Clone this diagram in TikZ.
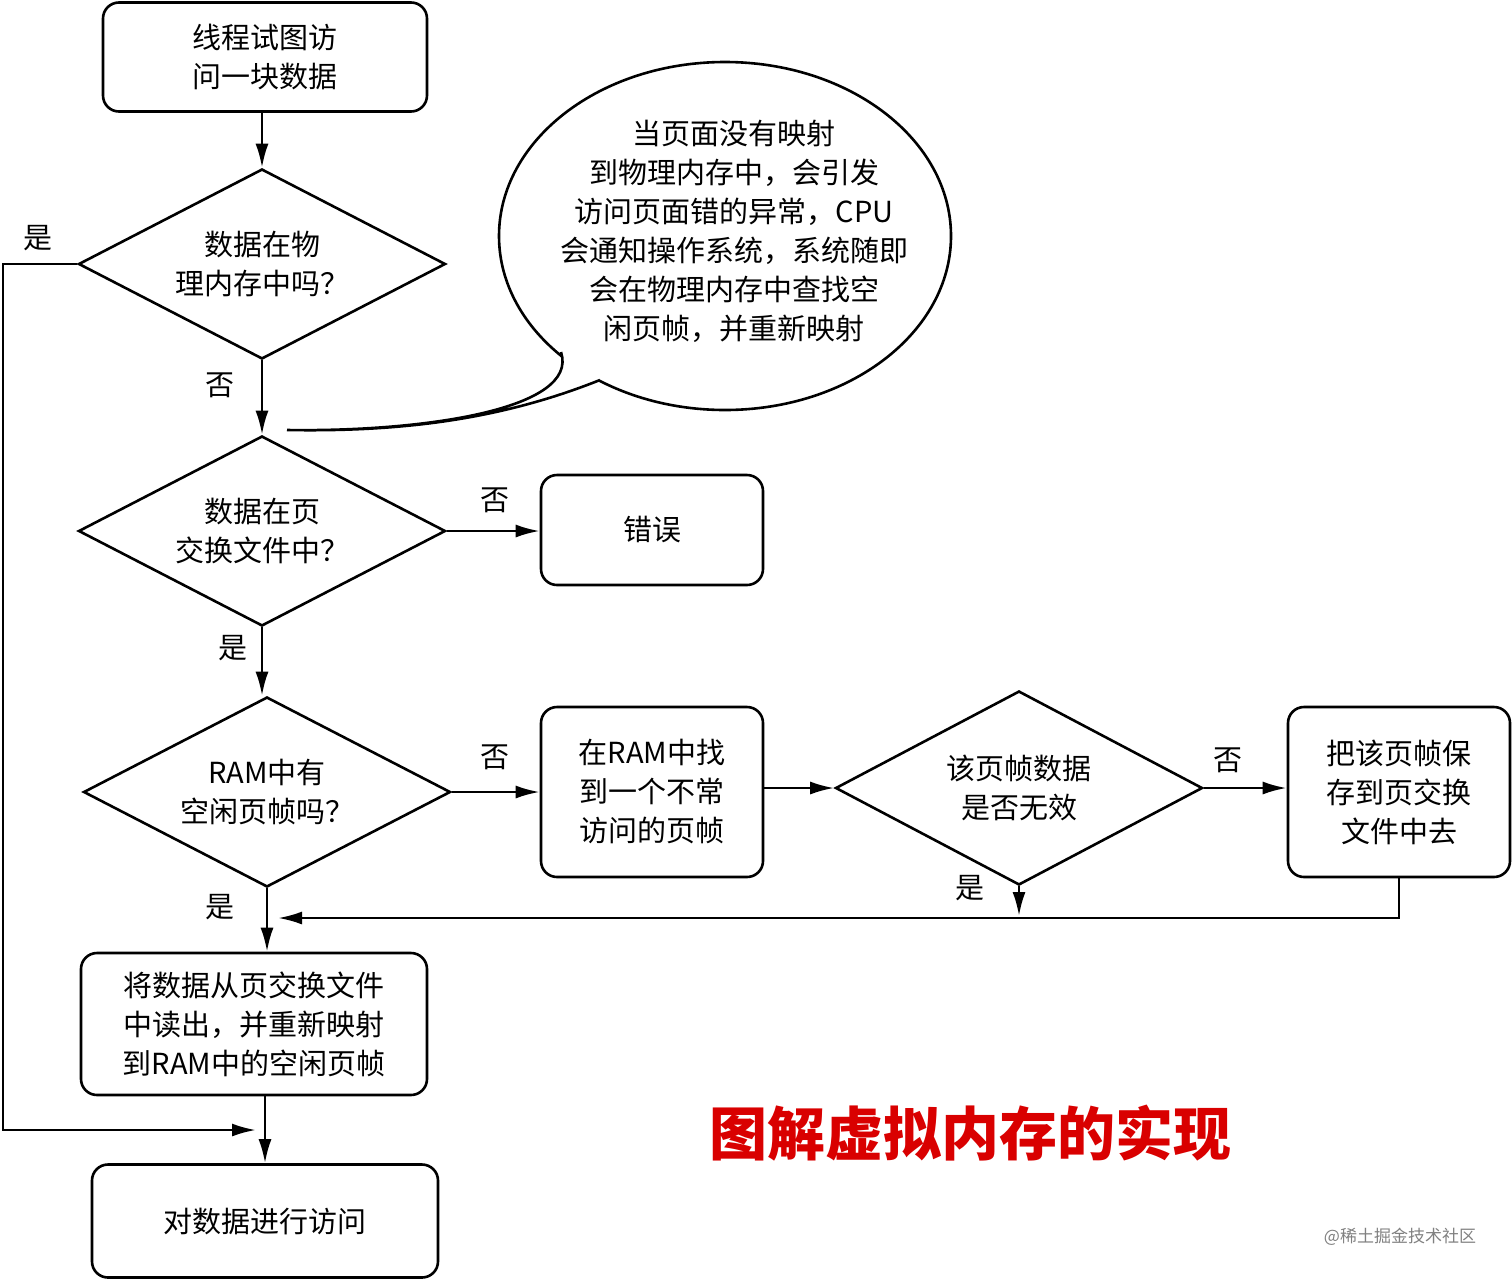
\documentclass[tikz,border=0pt]{standalone}
\usepackage{fontspec}
\newfontfamily\cjk{Noto Sans CJK SC}
\usetikzlibrary{shapes.geometric,arrows.meta}
\begin{document}
\begin{tikzpicture}[x=1pt,y=-1pt,line width=2.6pt,
  every node/.style={font=\cjk\fontsize{29}{39}\selectfont},
  box/.style={draw,rounded corners=16pt,align=center,inner sep=0pt},
  dia/.style={draw,diamond,aspect=1.93,inner sep=0pt,align=center,minimum width=367pt,minimum height=190pt},
  arr/.style={-{Latex[length=24pt,width=13pt]},line width=2.6pt},
  lbl/.style={inner sep=0pt}]
\useasboundingbox (0,0) rectangle (1512,1280);
\node[box,minimum width=324pt,minimum height=109pt] (b1) at (265,57) {线程试图访\\问一块数据};
\node[dia] (d1) at (262,264) {数据在物\\理内存中吗？};
\node[dia] (d2) at (262,531) {数据在页\\交换文件中？};
\node[box,minimum width=222pt,minimum height=110pt] (err) at (652,530) {错误};
\node[dia] (d3) at (267,792) {RAM中有\\空闲页帧吗？};
\node[box,minimum width=222pt,minimum height=170pt] (ram) at (652,792) {在RAM中找\\到一个不常\\访问的页帧};
\node[dia,minimum height=194pt] (d4) at (1019,788) {该页帧数据\\是否无效};
\node[box,minimum width=222pt,minimum height=170pt] (save) at (1399,792) {把该页帧保\\存到页交换\\文件中去};
\node[box,minimum width=346pt,minimum height=142pt] (load) at (254,1024) {将数据从页交换文件\\中读出，并重新映射\\到RAM中的空闲页帧};
\node[box,minimum width=346pt,minimum height=113pt] (fin) at (265,1221) {对数据进行访问};
% callout
\draw (725,236) ellipse [x radius=226pt, y radius=174pt];
\path[fill=white] (560,345) .. controls (580,410) and (420,432) .. (287,430) .. controls (400,432) and (500,420) .. (600,380) -- (590,360) -- cycle;
\draw (561,352) .. controls (580,410) and (420,432) .. (287,430) .. controls (400,432) and (500,420) .. (600,380);
\node[align=center] (ctext) at (734,231) {当页面没有映射\\到物理内存中，会引发\\访问页面错的异常，CPU\\会通知操作系统，系统随即\\会在物理内存中查找空\\闲页帧，并重新映射};
% connectors
\coordinate (l1) at (3,264);
\coordinate (l2) at (3,1130);
\coordinate (l3) at (256,1130);
\draw[arr] (b1.south -| d1.north) -- (d1.north);
\draw[arr] (d1.west) -- (l1) -- (l2) -- (l3);
\draw[arr] (d1.south) -- (d2.north);
\draw[arr] (d2.east) -- (err.west |- d2.east);
\draw[arr] (d2.south) -- (d2.south |- d3.north);
\draw[arr] (d3.east) -- (ram.west |- d3.east);
\draw[arr] (ram.east |- d4.west) -- (d4.west);
\draw[arr] (d4.east) -- (save.west |- d4.east);
\coordinate (y4) at (1019,916);
\draw[arr] (d4.south) -- (y4);
\coordinate (s1) at (1399,918);
\coordinate (s2) at (278,918);
\draw[arr] (save.south) -- (s1) -- (s2);
\draw[arr] (d3.south) -- (load.north -| d3.south);
\draw[arr] (load.south -| fin.north) -- (fin.north);
% labels
\node[lbl] (t1) at (38,238) {是};
\node[lbl] (t2) at (220,385) {否};
\node[lbl] (t3) at (495,500) {否};
\node[lbl] (t4) at (233,648) {是};
\node[lbl] (t5) at (495,757) {否};
\node[lbl] (t6) at (1228,760) {否};
\node[lbl] (t7) at (970,888) {是};
\node[lbl] (t8) at (220,907) {是};
\node[lbl,text=red!85!black,font=\cjk\bfseries\fontsize{58}{60}\selectfont] (title) at (970,1133) {图解虚拟内存的实现};
\node[lbl,text=gray,font=\cjk\fontsize{17}{20}\selectfont] (wm) at (1400,1237) {@稀土掘金技术社区};
\end{tikzpicture}
\end{document}
